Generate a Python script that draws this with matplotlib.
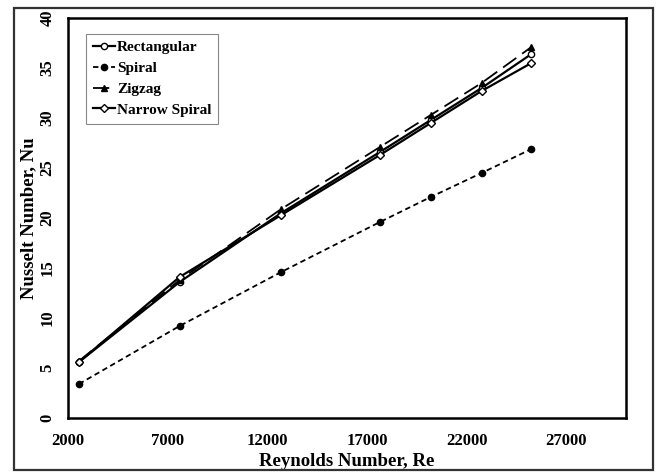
import numpy as np
import matplotlib.pyplot as plt
from matplotlib.patches import Rectangle

plt.rcParams['font.family'] = ['Liberation Serif', 'DejaVu Serif']
plt.rcParams['font.weight'] = 'bold'

# 数据
re = [2550, 7600, 12700, 17650, 20200, 22750, 25250]
nu_rect = [5.6, 13.6, 20.5, 26.6, 29.8, 33.0, 36.4]
nu_spiral = [3.4, 9.2, 14.6, 19.6, 22.1, 24.5, 26.9]
nu_zigzag = [5.7, 13.8, 20.9, 27.1, 30.3, 33.5, 37.1]
nu_narrow = [5.6, 14.1, 20.3, 26.3, 29.5, 32.7, 35.5]

xticks = [2000, 7000, 12000, 17000, 22000, 27000]
yticks = [0, 5, 10, 15, 20, 25, 30, 35, 40]

fig = plt.figure(figsize=(6.57, 4.72), dpi=100)
ax = fig.add_axes([0.1035, 0.1144, 0.8495, 0.8475])

# 外框
fig.patches.append(Rectangle((14/657, 2/472), 639/657, 462/472, transform=fig.transFigure,
                             fill=False, edgecolor='#333333', linewidth=1.6))

ax.plot(re, nu_rect, '-', color='black', lw=1.6, marker='o', ms=4.5, mfc='white', mew=1.0, label='Rectangular')
ax.plot(re, nu_spiral, '--', color='black', lw=1.3, dashes=(3, 2), marker='o', ms=4.5, label='Spiral')
ax.plot(re, nu_zigzag, '--', color='black', lw=1.3, dashes=(9, 4), marker='^', ms=4.5, label='Zigzag')
ax.plot(re, nu_narrow, '-', color='black', lw=1.6, marker='D', ms=4, mfc='white', mew=1.0, label='Narrow Spiral')

ax.set_xlim(2000, 30000)
ax.set_ylim(0, 40)
ax.set_xticks(xticks)
ax.set_yticks(yticks)
ax.tick_params(length=0, labelsize=12)
ax.tick_params(axis='x', pad=11)
ax.tick_params(axis='y', pad=9)
for t in ax.get_yticklabels():
    t.set_rotation(90)
    t.set_va('center')
for s in ax.spines.values():
    s.set_linewidth(1.8)

ax.set_xlabel('Reynolds Number, Re', fontsize=13.5, fontweight='bold', labelpad=3)
ax.set_ylabel('Nusselt Number, Nu', fontsize=13.5, fontweight='bold')
ax.yaxis.set_label_coords(-0.056, 0.5)

leg = ax.legend(loc='upper left', bbox_to_anchor=(0.018, 0.98), fontsize=11, handlelength=1.5,
                handletextpad=0.1, borderpad=0.45, labelspacing=0.47, fancybox=False,
                framealpha=1, edgecolor='#888888')
leg.get_frame().set_linewidth(0.8)

plt.savefig('out.png', dpi=100)
